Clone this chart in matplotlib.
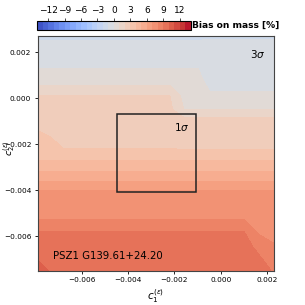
import numpy as np
import matplotlib
matplotlib.use('Agg')
import matplotlib.pyplot as plt
from matplotlib.patches import Rectangle

# grid nodes of the scan (c1 columns, c2 rows, top to bottom)
c1_nodes = [-0.0079, -0.0073, -0.0068, -0.0022, -0.0016, -0.0010, -0.0005, 0.0010, 0.0016, 0.0023]
c2_nodes = [0.0027, 0.0025, 0.0013, 0.00055, 0.00012, -0.0005, -0.00084, -0.0014, -0.0022,
            -0.0027, -0.00315, -0.0036, -0.0040, -0.0053, -0.0058, -0.0065, -0.0075]

# bias on mass [%], one row per c2 node
bias = [
    [-1.2, -1.2, -1.2, -1.2, -1.2, -1.2, -1.1, -1.1, -1.1, -1.1],
    [-1.0, -1.0, -1.0, -1.0, -1.0, -1.0, -0.96, -0.96, -0.96, -0.96],
    [0.0, 0.0, 0.0, 0.0, 0.0, 0.0, -0.54, -0.54, -0.54, -0.54],
    [1.0, 1.0, 1.0, 1.0, 0.42, 0.42, -0.15, -0.15, -0.15, -0.15],
    [2.0, 2.0, 2.0, 2.0, 0.66, 0.66, 0.11, 0.11, 0.11, 0.11],
    [2.41, 2.31, 2.27, 2.27, 1.0, 1.0, 1.0, 1.0, 1.0, 1.0],
    [2.63, 2.48, 2.41, 2.41, 2.0, 2.0, 2.0, 2.0, 2.0, 2.0],
    [3.0, 2.75, 2.66, 2.66, 2.38, 2.38, 2.38, 2.38, 2.38, 2.38],
    [3.62, 3.375, 3.0, 3.0, 2.93, 2.93, 2.93, 2.93, 2.93, 2.93],
    [4.0, 4.0, 4.0, 4.0, 4.0, 4.0, 4.0, 4.0, 4.0, 4.0],
    [5.0, 5.0, 5.0, 5.0, 5.0, 5.0, 5.0, 5.0, 5.0, 5.0],
    [6.0, 6.0, 6.0, 6.0, 6.0, 6.0, 6.0, 6.0, 6.0, 6.0],
    [7.0, 7.0, 7.0, 7.0, 7.0, 7.0, 7.0, 7.0, 7.0, 7.0],
    [8.0, 8.0, 8.0, 8.0, 8.0, 8.0, 8.0, 8.0, 7.62, 7.54],
    [9.0, 9.0, 9.0, 9.0, 9.0, 9.0, 9.0, 9.0, 7.86, 7.75],
    [9.4, 9.4, 9.4, 9.4, 9.4, 9.4, 9.4, 9.4, 8.8, 8.08],
    [10.4, 9.9, 9.9, 9.9, 9.9, 9.9, 9.9, 9.9, 9.6, 8.85],
]

levels = np.arange(-14, 15, 1)
cbar_ticks = [-12, -9, -6, -3, 0, 3, 6, 9, 12]

# 1 sigma and 3 sigma ranges
c1_1sig = (-0.00449, -0.00109)
c2_1sig = (-0.0041, -0.00071)
c1_3sig = (-0.0079, 0.0023)
c2_3sig = (-0.0075, 0.0027)
cluster = 'PSZ1 G139.61+24.20'

fig = plt.figure(figsize=(3.05, 3.05), dpi=100)
ax = fig.add_axes([0.123, 0.113, 0.776, 0.769])
cf = ax.contourf(c1_nodes, c2_nodes, bias, levels=levels, cmap='coolwarm')

ax.add_patch(Rectangle((c1_1sig[0], c2_1sig[0]), c1_1sig[1] - c1_1sig[0], c2_1sig[1] - c2_1sig[0],
                       fill=False, edgecolor='#222222', lw=1.1))
ax.text(-0.00136, -0.00142, r'$1\sigma$', ha='right', va='baseline', fontsize=7.5)
ax.text(0.961, 0.906, r'$3\sigma$', ha='right', va='baseline', fontsize=7.5, transform=ax.transAxes)
ax.text(0.065, 0.049, cluster, ha='left', va='baseline', fontsize=7.3, transform=ax.transAxes)

ax.set_xlim(*c1_3sig)
ax.set_ylim(*c2_3sig)
ax.set_xticks([-0.006, -0.004, -0.002, 0.000, 0.002])
ax.set_yticks([-0.006, -0.004, -0.002, 0.000, 0.002])
ax.tick_params(labelsize=5.3, length=2.5, width=0.6, pad=2)
for s in ax.spines.values():
    s.set_linewidth(0.8)
    s.set_color('#444444')

ax.set_xlabel(r'$c_1^{(\varepsilon)}$', fontsize=7.5)
ax.set_ylabel(r'$c_2^{(\varepsilon)}$', fontsize=6.8)
ax.xaxis.set_label_coords(0.5, -0.07)
ax.yaxis.set_label_coords(-0.086, 0.52)

cax = fig.add_axes([0.122, 0.9007, 0.503, 0.0305])
cb = fig.colorbar(cf, cax=cax, orientation='horizontal', ticks=cbar_ticks)
cax.xaxis.set_ticks_position('top')
cax.xaxis.set_label_position('top')
cax.tick_params(labelsize=6.5, length=2.5, width=0.5, pad=1.5)
cb.outline.set_linewidth(0.8)
cax.text(1.006, 0.5, 'Bias on mass [%]', transform=cax.transAxes, ha='left', va='center',
         fontsize=6.6, fontweight='bold')

fig.savefig('out.png', dpi=100)
